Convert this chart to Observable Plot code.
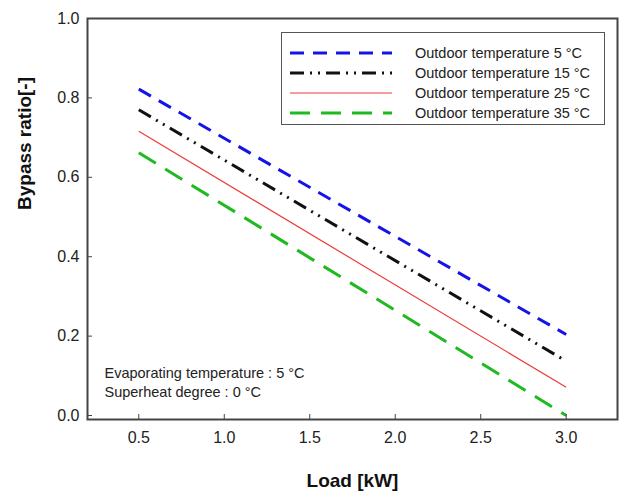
<!DOCTYPE html>
<html>
<head>
<meta charset="utf-8">
<script src="https://cdn.jsdelivr.net/npm/d3@7"></script>
<script src="https://cdn.jsdelivr.net/npm/@observablehq/plot@0.6"></script>
<style>
  html, body { margin: 0; padding: 0; background: #fff; }
  #wrap { position: relative; width: 624px; height: 491px; font-family: "Liberation Sans", Arial, sans-serif; }
  #legend { position: absolute; left: 281px; top: 32px; }
</style>
</head>
<body>
<div id="wrap"></div>
<script>
// ---- data ----
const loads = [0.5, 3.0];                       // Load [kW]
const seriesNames = [
  "Outdoor temperature 5 °C",
  "Outdoor temperature 15 °C",
  "Outdoor temperature 25 °C",
  "Outdoor temperature 35 °C"
];
const ratio5  = [0.822, 0.204];
const ratio15 = [0.770, 0.137];
const ratio25 = [0.716, 0.071];
const ratio35 = [0.662, 0.000];
const xTicks = [0.5, 1.0, 1.5, 2.0, 2.5, 3.0];
const yTicks = [0.0, 0.2, 0.4, 0.6, 0.8, 1.0];
const noteLines = ["Evaporating temperature : 5 °C", "Superheat degree : 0 °C"];

// ---- styles ----
const colors = ["#1414e8", "#111111", "#ee3a3a", "#1fba1f"];
const dashes = ["14,9", "14,6,2,6,2,6", null, "20,11"];
const widths = [3, 3, 1.2, 3];

const allRatios = [ratio5, ratio15, ratio25, ratio35];
const rows = [];
seriesNames.forEach((s, i) => loads.forEach((x, j) => rows.push({series: s, load: x, ratio: allRatios[i][j], idx: i})));

const W = 624, H = 491, mL = 87, mR = 7, mT = 18, mB = 72;
const plotH = H - mT - mB, plotW = W - mL - mR;

const lineMarks = seriesNames.map((s, i) =>
  Plot.line(rows.filter(r => r.series === s), {
    x: "load", y: "ratio",
    stroke: colors[i], strokeWidth: widths[i],
    strokeDasharray: dashes[i] || undefined, strokeLinecap: "butt"
  })
);

const chart = Plot.plot({
  width: W, height: H,
  marginLeft: mL, marginRight: mR, marginTop: mT, marginBottom: mB,
  style: {fontFamily: "Liberation Sans, Arial, sans-serif", background: "#fff", color: "#222"},
  x: {domain: [0.2, 3.3], label: null},
  y: {domain: [-0.01, 1.0], label: null},
  marks: [
    ...lineMarks,
    Plot.tickX(xTicks, {x: d => d, stroke: "#444", strokeWidth: 1, insetTop: plotH - 5}),
    Plot.tickY(yTicks, {y: d => d, stroke: "#444", strokeWidth: 1, insetRight: plotW - 5}),
    Plot.axisX(xTicks, {tickSize: 0, tickPadding: 12, fontSize: 16, fill: "#222", tickFormat: d => d.toFixed(1)}),
    Plot.axisY(yTicks, {tickSize: 0, tickPadding: 8, fontSize: 16, fill: "#222", tickFormat: d => d.toFixed(1)}),
    Plot.text([noteLines.join("\n")], {
      frameAnchor: "bottom-left", text: d => d, dx: 17, dy: -38,
      textAnchor: "start", lineAnchor: "middle", lineHeight: 1.32, fontSize: 14.5, fill: "#222"
    }),
    Plot.text(["Load [kW]"], {
      frameAnchor: "bottom", text: d => d, dy: 67, lineAnchor: "bottom",
      fontSize: 19, fontWeight: "bold", fill: "#111"
    }),
    Plot.text(["Bypass ratio[-]"], {
      frameAnchor: "left", text: d => d, dx: -63, dy: -9, rotate: -90,
      fontSize: 19, fontWeight: "bold", fill: "#111"
    }),
    Plot.frame({stroke: "#444", strokeWidth: 2})
  ]
});
const wrap = document.getElementById("wrap");
wrap.appendChild(chart);

// ---- legend box (inside the plot) ----
const LW = 324, LH = 93;
const leg = d3.select(wrap).append("svg").attr("id", "legend")
  .attr("width", LW).attr("height", LH);
leg.append("rect").attr("x", 0.5).attr("y", 0.5).attr("width", LW - 1).attr("height", LH - 1)
  .attr("fill", "#fff").attr("stroke", "#555").attr("stroke-width", 1);
const item = leg.selectAll("g.item").data(seriesNames).join("g")
  .attr("transform", (d, i) => `translate(0,${21 + i * 20})`);
item.append("line").attr("x1", 9).attr("x2", 111).attr("y1", 0).attr("y2", 0)
  .attr("stroke", (d, i) => colors[i]).attr("stroke-width", (d, i) => widths[i])
  .attr("stroke-dasharray", (d, i) => dashes[i]);
item.append("text").attr("x", 134).attr("y", 0).attr("dy", "0.35em")
  .attr("font-size", 14.5).attr("fill", "#222")
  .attr("font-family", "Liberation Sans, Arial, sans-serif")
  .text(d => d);
</script>
</body>
</html>
